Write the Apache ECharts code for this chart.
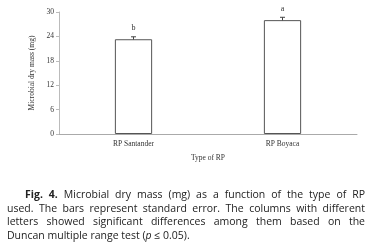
<!DOCTYPE html>
<html>
<head>
<meta charset="utf-8">
<script src="https://cdn.jsdelivr.net/npm/echarts@6/dist/echarts.min.js"></script>
<style>
  html, body { margin: 0; padding: 0; background: #fff; }
  #chart { position: absolute; left: 0; top: 0; width: 369px; height: 251px; }
  .caption {
    position: absolute; left: 7px; top: 188px; width: 358px;
    font-family: "Open Sans", sans-serif; font-size: 10.5px; line-height: 13.6px;
    color: #222;
  }
  .caption .ln { text-align: justify; text-align-last: justify; white-space: nowrap; }
  .caption .ln.first { padding-left: 18px; }
  .caption .ln.last { text-align-last: left; }
</style>
</head>
<body>
<div id="chart"></div>
<div class="caption">
  <div class="ln first"><b>Fig. 4.</b> Microbial dry mass (mg) as a function of the type of RP</div>
  <div class="ln">used. The bars represent standard error. The columns with different</div>
  <div class="ln">letters showed significant differences among them based on the</div>
  <div class="ln last">Duncan multiple range test (<i>p</i> ≤ 0.05).</div>
</div>
<script>
// values
const categories = ['RP Santander', 'RP Boyaca']
const dryMass = [23.3, 28.0]
const stdError = [0.6, 0.7]
const letters = ['b', 'a']

const chart = echarts.init(document.getElementById('chart'))

const serif = '"Liberation Serif", "DejaVu Serif", serif'

const option = {
  animation: false,
  grid: { left: 59, right: 12, top: 12, bottom: 117 },
  xAxis: {
    type: 'category',
    data: categories,
    name: 'Type of RP',
    nameLocation: 'middle',
    nameGap: 20,
    nameTextStyle: { fontFamily: serif, fontSize: 7.5, color: '#333' },
    axisLine: { lineStyle: { color: '#aaa', width: 1 } },
    axisTick: { show: false },
    axisLabel: { fontFamily: serif, fontSize: 7.5, color: '#333', margin: 6 }
  },
  yAxis: {
    type: 'value',
    min: 0,
    max: 30,
    interval: 6,
    name: 'Microbial dry mass (mg)',
    nameLocation: 'middle',
    nameGap: 16,
    nameTextStyle: { fontFamily: serif, fontSize: 7.5, color: '#333' },
    axisLine: { show: true, lineStyle: { color: '#bbb', width: 1 } },
    axisTick: { show: true, length: 3, lineStyle: { color: '#bbb' } },
    axisLabel: { fontFamily: serif, fontSize: 7.5, color: '#333', margin: 5 },
    splitLine: { show: false }
  },
  series: [
    {
      type: 'bar',
      data: dryMass,
      barWidth: '25%',
      itemStyle: { color: '#fff', borderColor: '#555', borderWidth: 1 }
    },
    {
      type: 'custom',
      data: dryMass.map((v, i) => [i, v, stdError[i]]),
      renderItem: (params, api) => {
        const x = api.value(0)
        const v = api.value(1)
        const se = api.value(2)
        const top = api.coord([x, v + se])
        const bot = api.coord([x, v - se])
        const cap = 2.5
        const style = { stroke: '#444', lineWidth: 1 }
        return {
          type: 'group',
          children: [
            { type: 'line', shape: { x1: top[0], y1: top[1], x2: bot[0], y2: bot[1] }, style },
            { type: 'line', shape: { x1: top[0] - cap, y1: top[1], x2: top[0] + cap, y2: top[1] }, style },
            { type: 'line', shape: { x1: bot[0] - cap, y1: bot[1], x2: bot[0] + cap, y2: bot[1] }, style },
            {
              type: 'text',
              style: {
                x: top[0], y: top[1] - 4.5,
                text: letters[params.dataIndex],
                fontFamily: serif, fontSize: 8, fill: '#333',
                align: 'center', verticalAlign: 'bottom'
              }
            }
          ]
        }
      }
    }
  ]
}

chart.setOption(option)
</script>
</body>
</html>
